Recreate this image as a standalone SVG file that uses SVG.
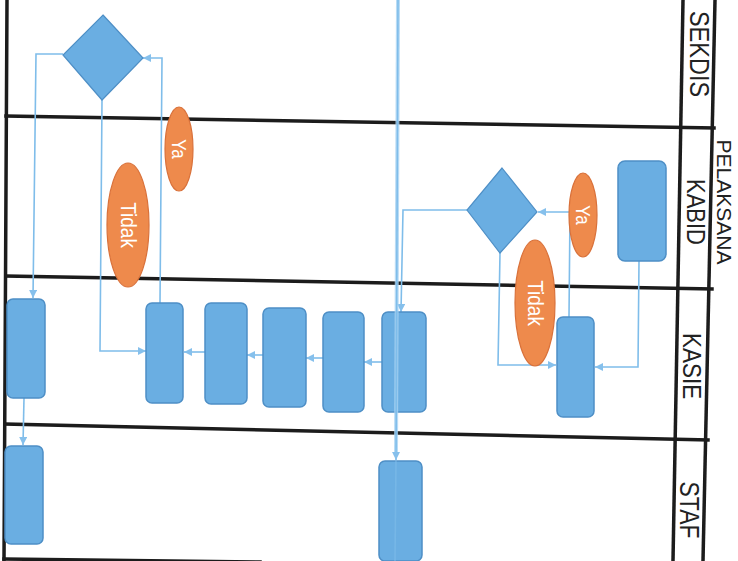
<svg xmlns="http://www.w3.org/2000/svg" width="738" height="561" viewBox="0 0 738 561">
  <defs>
    <style>
      .lane { stroke: #1c1c1c; stroke-width: 3.5; fill: none; stroke-linecap: square; }
      .box { fill: #6aaee2; stroke: #4e8fc6; stroke-width: 1.5; }
      .dec { fill: #6aaee2; stroke: #4e8fc6; stroke-width: 1.2; }
      .tag { fill: #ee8a4c; stroke: #d9713a; stroke-width: 1.2; }
      .tagtxt { font-family: "Liberation Sans", Arial, sans-serif; fill: #ffffff; text-anchor: middle; }
      .lbl { font-family: "Liberation Sans", Arial, sans-serif; fill: #222222; text-anchor: middle; }
      .con { stroke: #7fbdea; stroke-width: 1.6; fill: none; }
      .trunk { stroke: #a9d3f3; stroke-width: 4; fill: none; opacity: 0.8; }
    </style>
    <marker id="arr" viewBox="0 0 10 10" refX="10" refY="5" markerWidth="8" markerHeight="8" markerUnits="userSpaceOnUse" orient="auto">
      <path d="M0,0 L10,5 L0,10 z" fill="#86c0ec"/>
    </marker>
  </defs>

  <rect width="738" height="561" fill="#ffffff"/>

  <!-- swimlane grid -->
  <g id="lanes">
    <line class="lane" x1="7" y1="0" x2="4" y2="561"/>
    <line class="lane" x1="6" y1="116" x2="714" y2="128"/>
    <line class="lane" x1="6" y1="276" x2="712" y2="289"/>
    <line class="lane" x1="5" y1="424" x2="708" y2="440"/>
    <line class="lane" x1="4" y1="559" x2="260" y2="562"/>
    <line class="lane" x1="683" y1="0" x2="673" y2="561"/>
    <line class="lane" x1="715" y1="0" x2="703" y2="561"/>
  </g>

  <!-- lane labels -->
  <g id="labels">
    <text class="lbl" font-size="23.5" transform="translate(690,54) rotate(90) scale(1,1.18)">SEKDIS</text>
    <text class="lbl" font-size="22" transform="translate(687,212) rotate(90) scale(1,1.18)">KABID</text>
    <text class="lbl" font-size="22.5" transform="translate(683,366) rotate(90) scale(1,1.18)">KASIE</text>
    <text class="lbl" font-size="23" transform="translate(680,510) rotate(90) scale(1,1.18)">STAF</text>
    <text class="lbl" font-size="21" transform="translate(717,202) rotate(90)">PELAKSANA</text>
  </g>

  <!-- connectors -->
  <g id="connectors">
    <polyline class="con" points="467,210 403,210 401,312" marker-end="url(#arr)"/>
    <line class="con" x1="382" y1="362" x2="364" y2="362" marker-end="url(#arr)"/>
    <line class="con" x1="323" y1="358" x2="306" y2="358" marker-end="url(#arr)"/>
    <line class="con" x1="263" y1="355" x2="247" y2="355" marker-end="url(#arr)"/>
    <line class="con" x1="205" y1="352" x2="184" y2="352" marker-end="url(#arr)"/>
    <polyline class="con" points="102,100 100,351 146,351" marker-end="url(#arr)"/>
    <polyline class="con" points="160,303 162,58 143,58" marker-end="url(#arr)"/>
    <polyline class="con" points="63,54 36,54 33,298" marker-end="url(#arr)"/>
    <line class="con" x1="24" y1="398" x2="23" y2="445" marker-end="url(#arr)"/>
    <polyline class="con" points="639,261 638,367 595,367" marker-end="url(#arr)"/>
    <polyline class="con" points="569,317 570,212 538,212" marker-end="url(#arr)"/>
    <polyline class="con" points="500,253 498,365 556,365" marker-end="url(#arr)"/>
  </g>

  <!-- SEKDIS lane -->
  <g id="sekdis-decision">
    <polygon class="dec" points="103,15 143,58 102,100 63,55"/>
  </g>

  <!-- KABID lane -->
  <g id="kabid-decision">
    <polygon class="dec" points="502,168 537,212 500,253 467,210"/>
  </g>
  <g id="kabid-task">
    <rect class="box" x="618" y="161" width="48" height="100" rx="7"/>
  </g>
  <g id="ya-left">
    <ellipse class="tag" cx="179" cy="149" rx="14" ry="42"/>
    <text class="tagtxt" font-size="17" transform="translate(172,149) rotate(90) scale(1,1.15)">Ya</text>
  </g>
  <g id="tidak-left">
    <ellipse class="tag" cx="128" cy="225" rx="21" ry="62"/>
    <text class="tagtxt" font-size="19" transform="translate(121,225) rotate(90) scale(1,1.15)">Tidak</text>
  </g>
  <g id="ya-right">
    <ellipse class="tag" cx="583" cy="215" rx="14" ry="42"/>
    <text class="tagtxt" font-size="17" transform="translate(576,215) rotate(90) scale(1,1.15)">Ya</text>
  </g>
  <g id="tidak-right">
    <ellipse class="tag" cx="535" cy="303" rx="20" ry="63"/>
    <text class="tagtxt" font-size="19" transform="translate(528,303) rotate(90) scale(1,1.15)">Tidak</text>
  </g>

  <!-- KASIE lane -->
  <g id="kasie-1"><rect class="box" x="7" y="299" width="38" height="99" rx="6"/></g>
  <g id="kasie-2"><rect class="box" x="146" y="303" width="37" height="100" rx="6"/></g>
  <g id="kasie-3"><rect class="box" x="205" y="303" width="42" height="101" rx="6"/></g>
  <g id="kasie-4"><rect class="box" x="263" y="308" width="43" height="99" rx="6"/></g>
  <g id="kasie-5"><rect class="box" x="323" y="312" width="41" height="100" rx="6"/></g>
  <g id="kasie-6"><rect class="box" x="382" y="312" width="44" height="100" rx="6"/></g>
  <g id="kasie-7"><rect class="box" x="557" y="317" width="37" height="100" rx="6"/></g>

  <!-- STAF lane -->
  <g id="staf-1"><rect class="box" x="5" y="446" width="38" height="98" rx="6"/></g>
  <g id="staf-2"><rect class="box" x="379" y="461" width="43" height="100" rx="6"/></g>

  <!-- incoming trunk line from the previous page, drawn over the boxes -->
  <g id="trunk">
    <line class="trunk" x1="398" y1="0" x2="396" y2="452"/>
    <line class="con" x1="398" y1="0" x2="396" y2="460" marker-end="url(#arr)"/>
    <line class="con" x1="396" y1="460" x2="395" y2="561" stroke-opacity="0.6"/>
  </g>
</svg>
